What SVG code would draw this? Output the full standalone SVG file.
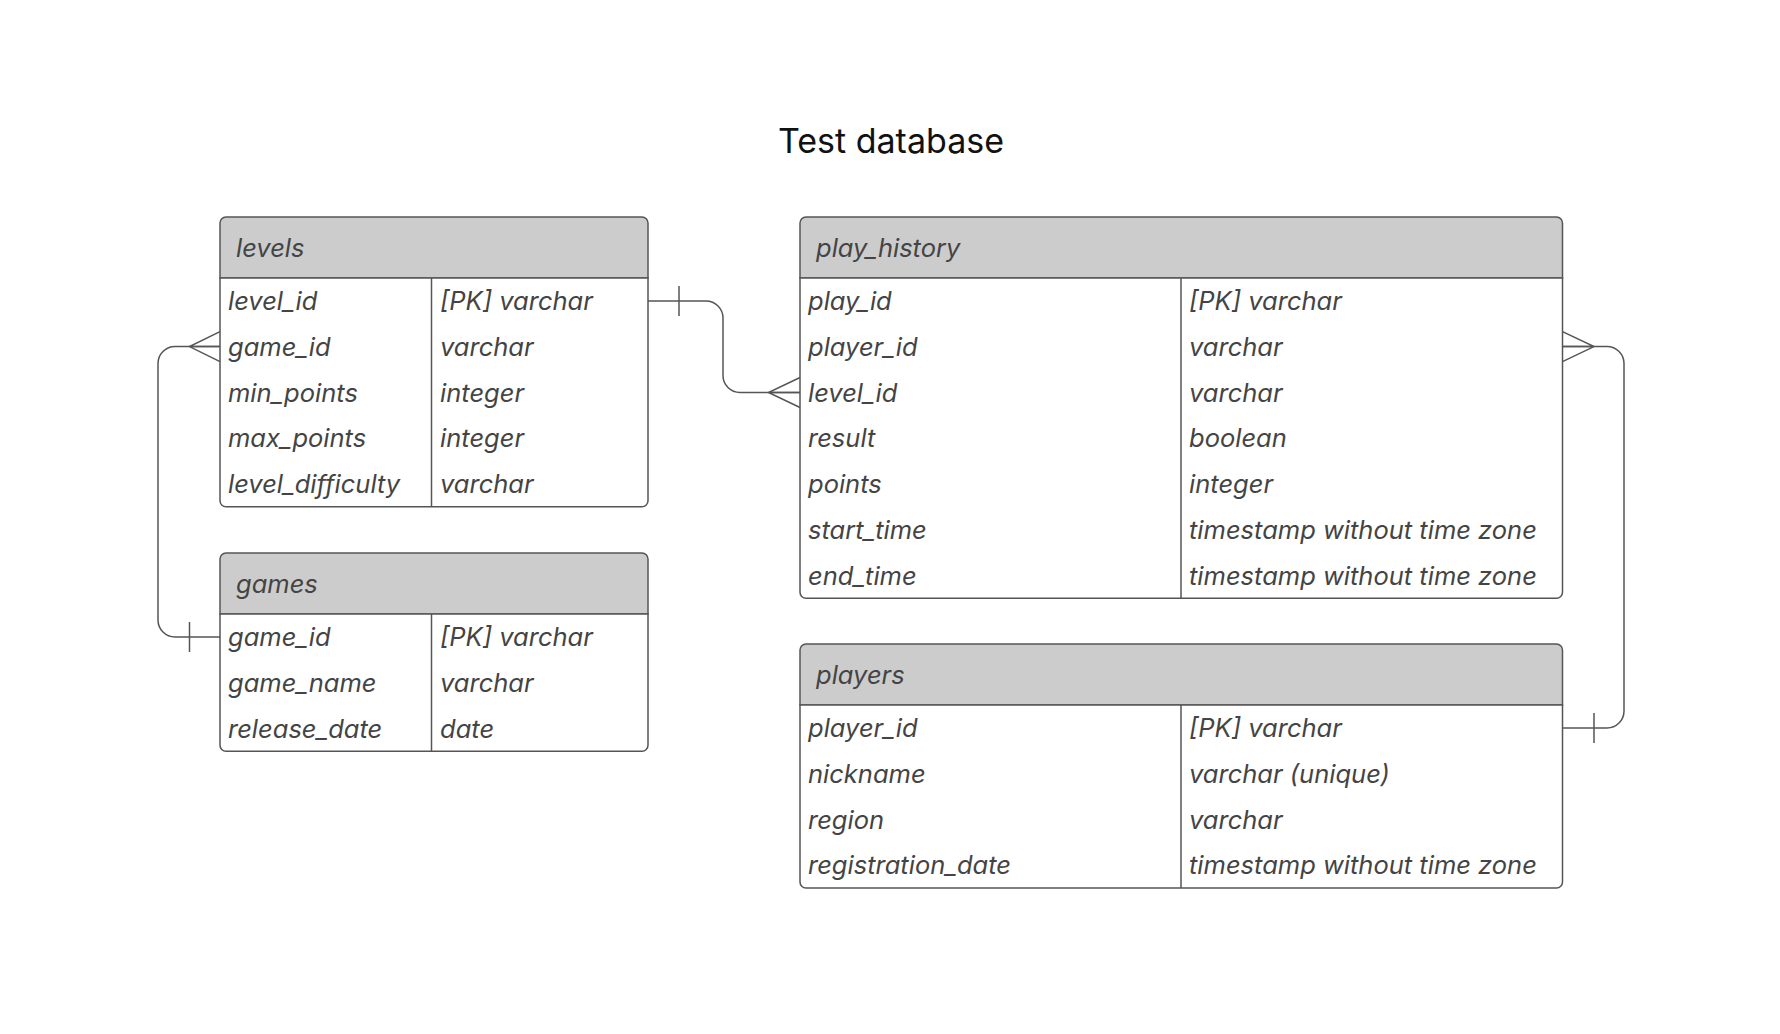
<svg xmlns="http://www.w3.org/2000/svg" width="1780" height="1034" viewBox="0 0 1780 1034">
<style>
.bg{fill:#ffffff}
.tbl{fill:#ffffff;stroke:#555555;stroke-width:1.5}
.hdr{fill:#cccccc;stroke:#555555;stroke-width:1.5}
.div{stroke:#555555;stroke-width:1.5;fill:none}
.t{font-family:Inter,"Liberation Sans",sans-serif;font-style:italic;font-size:25.5px;fill:#444444}
.h{font-family:Inter,"Liberation Sans",sans-serif;font-style:italic;font-size:25.5px;fill:#444444}
.title{font-family:Inter,"Liberation Sans",sans-serif;font-size:34px;fill:#111111}
.c{stroke:#555555;stroke-width:1.5;fill:none}
</style>
<rect class="bg" x="0" y="0" width="1780" height="1034"/>
<text class="title" x="891" y="153" text-anchor="middle">Test database</text>

<g id="levels">
<path class="hdr" d="M220,278 V223 a6,6 0 0 1 6,-6 H642 a6,6 0 0 1 6,6 V278 Z"/>
<path class="tbl" d="M220,278 H648 V500.75 a6,6 0 0 1 -6,6 H226 a6,6 0 0 1 -6,-6 Z"/>
<line class="div" x1="431.5" y1="278" x2="431.5" y2="506.75"/>
<text class="h" x="236" y="257">levels</text>
<text class="t" x="228" y="310">level_id</text><text class="t" x="440" y="310">[PK] varchar</text>
<text class="t" x="228" y="355.7">game_id</text><text class="t" x="440" y="355.7">varchar</text>
<text class="t" x="228" y="401.5">min_points</text><text class="t" x="440" y="401.5">integer</text>
<text class="t" x="228" y="447.2">max_points</text><text class="t" x="440" y="447.2">integer</text>
<text class="t" x="228" y="493">level_difficulty</text><text class="t" x="440" y="493">varchar</text>
</g>

<g id="games">
<path class="hdr" d="M220,614 V559 a6,6 0 0 1 6,-6 H642 a6,6 0 0 1 6,6 V614 Z"/>
<path class="tbl" d="M220,614 H648 V745.25 a6,6 0 0 1 -6,6 H226 a6,6 0 0 1 -6,-6 Z"/>
<line class="div" x1="431.5" y1="614" x2="431.5" y2="751.25"/>
<text class="h" x="236" y="593">games</text>
<text class="t" x="228" y="646">game_id</text><text class="t" x="440" y="646">[PK] varchar</text>
<text class="t" x="228" y="691.7">game_name</text><text class="t" x="440" y="691.7">varchar</text>
<text class="t" x="228" y="737.5">release_date</text><text class="t" x="440" y="737.5">date</text>
</g>

<g id="play_history">
<path class="hdr" d="M800,278 V223 a6,6 0 0 1 6,-6 H1556.5 a6,6 0 0 1 6,6 V278 Z"/>
<path class="tbl" d="M800,278 H1562.5 V592.25 a6,6 0 0 1 -6,6 H806 a6,6 0 0 1 -6,-6 Z"/>
<line class="div" x1="1181" y1="278" x2="1181" y2="598.25"/>
<text class="h" x="816" y="257">play_history</text>
<text class="t" x="808" y="310">play_id</text><text class="t" x="1189" y="310">[PK] varchar</text>
<text class="t" x="808" y="355.7">player_id</text><text class="t" x="1189" y="355.7">varchar</text>
<text class="t" x="808" y="401.5">level_id</text><text class="t" x="1189" y="401.5">varchar</text>
<text class="t" x="808" y="447.2">result</text><text class="t" x="1189" y="447.2">boolean</text>
<text class="t" x="808" y="493">points</text><text class="t" x="1189" y="493">integer</text>
<text class="t" x="808" y="538.7">start_time</text><text class="t" x="1189" y="538.7">timestamp without time zone</text>
<text class="t" x="808" y="584.5">end_time</text><text class="t" x="1189" y="584.5">timestamp without time zone</text>
</g>

<g id="players">
<path class="hdr" d="M800,705 V650 a6,6 0 0 1 6,-6 H1556.5 a6,6 0 0 1 6,6 V705 Z"/>
<path class="tbl" d="M800,705 H1562.5 V882 a6,6 0 0 1 -6,6 H806 a6,6 0 0 1 -6,-6 Z"/>
<line class="div" x1="1181" y1="705" x2="1181" y2="888"/>
<text class="h" x="816" y="684">players</text>
<text class="t" x="808" y="737">player_id</text><text class="t" x="1189" y="737">[PK] varchar</text>
<text class="t" x="808" y="782.7">nickname</text><text class="t" x="1189" y="782.7">varchar (unique)</text>
<text class="t" x="808" y="828.5">region</text><text class="t" x="1189" y="828.5">varchar</text>
<text class="t" x="808" y="874.2">registration_date</text><text class="t" x="1189" y="874.2">timestamp without time zone</text>
</g>

<g id="connectors">
<!-- levels.level_id -> play_history.level_id -->
<path class="c" d="M648,301 H706 a17,17 0 0 1 17,17 V375.5 a17,17 0 0 0 17,17 H800"/>
<line class="c" x1="679" y1="286" x2="679" y2="316"/>
<path class="c" d="M800,377.5 L768.5,392.5 L800,407.5 M768.5,392.5 H800"/>
<!-- games.game_id -> levels.game_id -->
<path class="c" d="M220,346.6 H175 a17,17 0 0 0 -17,17 V620 a17,17 0 0 0 17,17 H220"/>
<line class="c" x1="189.5" y1="622" x2="189.5" y2="652"/>
<path class="c" d="M220,331.6 L189.5,346.6 L220,361.6 M189.5,346.6 H220"/>
<!-- players.player_id -> play_history.player_id -->
<path class="c" d="M1562.5,346.6 H1607 a17,17 0 0 1 17,17 V711 a17,17 0 0 1 -17,17 H1562.5"/>
<line class="c" x1="1594" y1="713" x2="1594" y2="743"/>
<path class="c" d="M1562.5,331.6 L1594,346.6 L1562.5,361.6 M1562.5,346.6 H1594"/>
</g>
</svg>
